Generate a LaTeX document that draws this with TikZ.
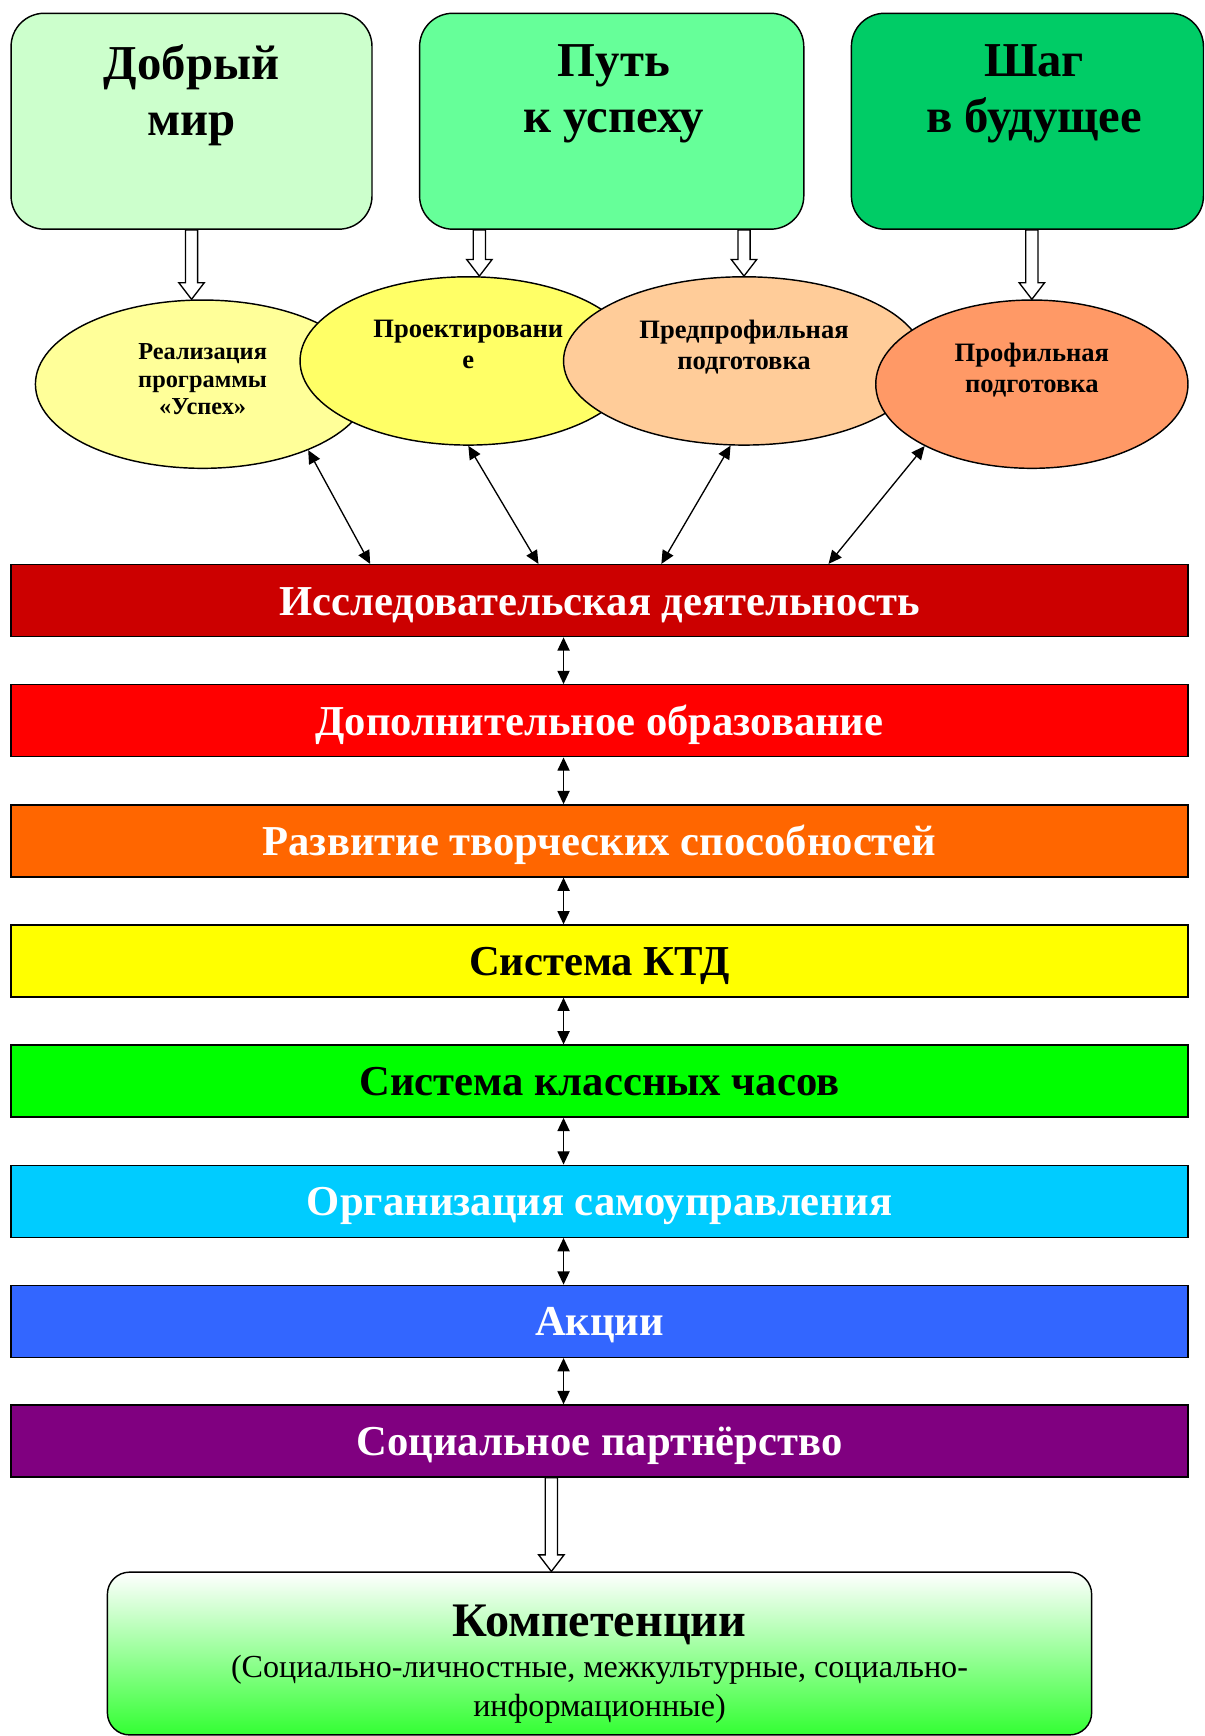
\documentclass[tikz,border=0pt]{standalone}
\usepackage{fontspec}
\setmainfont{Liberation Serif}
\usetikzlibrary{shapes.geometric,arrows.meta,calc}

\definecolor{mirgreen}{HTML}{CCFFCC}
\definecolor{putgreen}{HTML}{66FF99}
\definecolor{shaggreen}{HTML}{00CC66}
\definecolor{realyellow}{HTML}{FFFF99}
\definecolor{projyellow}{HTML}{FFFF66}
\definecolor{predpeach}{HTML}{FFCC99}
\definecolor{profpeach}{HTML}{FF9966}
\definecolor{researchred}{HTML}{CC0000}
\definecolor{additred}{HTML}{FF0000}
\definecolor{creatorange}{HTML}{FF6600}
\definecolor{ktdyellow}{HTML}{FFFF00}
\definecolor{hoursgreen}{HTML}{00FF00}
\definecolor{selfgovcyan}{HTML}{00CCFF}
\definecolor{actionsblue}{HTML}{3366FF}
\definecolor{socialpurple}{HTML}{800080}
\definecolor{compgreen}{HTML}{33FF33}

\tikzset{
  topbox/.style={draw, line width=1.3pt, rounded corners=30pt, minimum height=195pt, inner sep=0pt},
  toptext/.style={anchor=north, align=center, inner sep=0pt, yshift=-29pt, font=\bfseries\fontsize{44}{50}\selectfont},
  oval/.style={ellipse, draw, line width=1.3pt, inner sep=0pt, minimum height=152pt},
  ovaltext/.style={anchor=north, align=center, inner sep=0pt, yshift=37pt, font=\bfseries\fontsize{24}{27.5}\selectfont},
  bar/.style={draw, line width=1.3pt, minimum width=1063pt, minimum height=65pt, inner sep=0pt, text height=26pt, text depth=0pt, font=\bfseries\fontsize{38.5}{42}\selectfont},
  link/.style={line width=1.2pt, {Triangle[length=12pt,width=11pt]}-{Triangle[length=12pt,width=11pt]}},
  hollow/.style={draw, fill=white, line width=1.2pt, to path={let \p1=(\tikztostart), \p2=(\tikztotarget) in
    (\x1-5.5pt,\y1) -- (\x1-5.5pt,\y2+15pt) -- (\x1-11.5pt,\y2+15pt) -- (\x1,\y2) -- (\x1+11.5pt,\y2+15pt) -- (\x1+5.5pt,\y2+15pt) -- (\x1+5.5pt,\y1) -- cycle}},
}

\begin{document}
\begin{tikzpicture}[x=1pt, y=-1pt]
	\useasboundingbox (0,0) rectangle (1088,1568);
	% programs
	\node[topbox, fill=mirgreen, minimum width=326pt] (dobr) at (173,109.5) {};
	\node[topbox, fill=putgreen, minimum width=347pt] (put) at (552.5,109.5) {};
	\node[topbox, fill=shaggreen, minimum width=318pt] (shag) at (928,109.5) {};
	\node[toptext] (t-dobr) at (dobr.north) {Добрый\\мир};
	\node[toptext, xshift=2pt] (t-put) at (put.north) {Путь\\к успеху};
	\node[toptext, xshift=6pt] (t-shag) at (shag.north) {Шаг\\в будущее};
	% stages
	\node[oval, fill=realyellow, minimum width=302pt] (real) at (183,347) {};
	\node[ovaltext, font=\bfseries\fontsize{22}{25}\selectfont] (t-real) at (real.center) {Реализация\\программы\\«Успех»};
	\node[oval, fill=projyellow, minimum width=304pt] (proj) at (423,326) {};
	\node[ovaltext] (t-proj) at (proj.center) {Проектировани\\е};
	\node[oval, fill=predpeach, minimum width=326pt] (pred) at (672,326) {};
	\node[ovaltext] (t-pred) at (pred.center) {Предпрофильная\\подготовка};
	\node[oval, fill=profpeach, minimum width=282pt] (prof) at (932,347) {};
	\node[ovaltext] (t-prof) at (prof.center) {Профильная\\подготовка};
	\draw[hollow] (dobr.south) to (dobr.south |- real.north);
	\draw[hollow] ([xshift=-119.5pt]put.south) to (proj.north);
	\draw[hollow] (put.south -| pred.north) to (pred.north);
	\draw[hollow] (shag.south -| prof.north) to (prof.north);
	% directions
	\node[bar, fill=researchred, text=white] (research) at (541.5,542.5) {Исследовательская деятельность};
	\node[bar, fill=additred, text=white] (addit) at (541.5,651) {Дополнительное образование};
	\node[bar, fill=creatorange, text=white] (creat) at (541.5,759.5) {Развитие творческих способностей};
	\node[bar, fill=ktdyellow] (ktd) at (541.5,868) {Система КТД};
	\node[bar, fill=hoursgreen] (hours) at (541.5,976.5) {Система классных часов};
	\node[bar, fill=selfgovcyan, text=white] (selfgov) at (541.5,1085) {Организация самоуправления};
	\node[bar, fill=actionsblue, text=white] (actions) at (541.5,1193.5) {Акции};
	\node[bar, fill=socialpurple, text=white] (social) at (541.5,1301.5) {Социальное партнёрство};
	\draw[link] (real.-32) -- ([xshift=325pt]research.north west);
	\draw[link] (proj.south) -- ([xshift=477pt]research.north west);
	\draw[link] (pred.-99) -- ([xshift=588pt]research.north west);
	\draw[link] (prof.-150) -- ([xshift=739pt]research.north west);
	\draw[link] ([xshift=-32.5pt]research.south) -- ([xshift=-32.5pt]addit.north);
	\draw[link] ([xshift=-32.5pt]addit.south) -- ([xshift=-32.5pt]creat.north);
	\draw[link] ([xshift=-32.5pt]creat.south) -- ([xshift=-32.5pt]ktd.north);
	\draw[link] ([xshift=-32.5pt]ktd.south) -- ([xshift=-32.5pt]hours.north);
	\draw[link] ([xshift=-32.5pt]hours.south) -- ([xshift=-32.5pt]selfgov.north);
	\draw[link] ([xshift=-32.5pt]selfgov.south) -- ([xshift=-32.5pt]actions.north);
	\draw[link] ([xshift=-32.5pt]actions.south) -- ([xshift=-32.5pt]social.north);
	% result
	\node[draw, line width=1.3pt, rounded corners=20pt, top color=white, bottom color=compgreen, minimum width=889pt, minimum height=147pt, inner sep=0pt] (comp) at (541.5,1493.5) {};
	\node[anchor=base, inner sep=0pt, font=\bfseries\fontsize{43.5}{48}\selectfont] (t-comp) at (541.5,1478) {Компетенции};
	\node[anchor=north, align=center, inner sep=0pt, font=\fontsize{29}{35}\selectfont] (t-sub) at (541.5,1495) {(Социально-личностные, межкультурные, социально-\\информационные)};
	\draw[hollow] ([xshift=-43.5pt]social.south) to ([xshift=-43.5pt]comp.north);
\end{tikzpicture}
\end{document}
